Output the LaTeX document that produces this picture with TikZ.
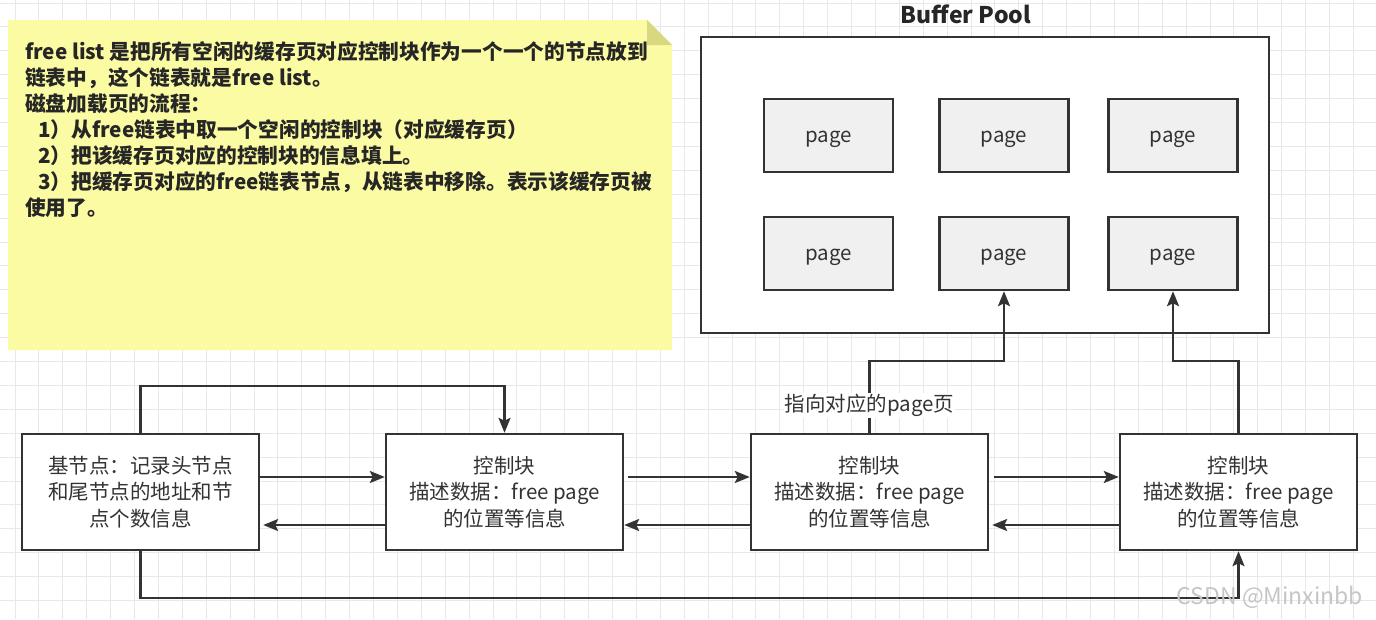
\documentclass[tikz,border=0pt]{standalone}
\usepackage{fontspec}
\setmainfont{Noto Sans CJK SC}
\usetikzlibrary{arrows.meta}
\definecolor{ink}{HTML}{333333}
\definecolor{gridc}{HTML}{E8E8E8}
\definecolor{notefill}{HTML}{FBFBA3}
\definecolor{foldfill}{HTML}{D8D880}
\definecolor{pagefill}{HTML}{F0F0F0}
\begin{document}
\begin{tikzpicture}[x=1pt,y=-1pt,
  gridline/.style={draw=gridc,line width=1pt},
  box/.style={draw=ink,line width=2.4pt,fill=white,minimum width=237pt,minimum height=116pt,align=center,inner sep=0pt,text=ink,font=\fontsize{20.5}{26.5}\selectfont},
  pagebox/.style={draw=ink,line width=2.4pt,fill=pagefill,minimum width=129pt,minimum height=73pt,inner sep=0pt,text=ink,text height=19pt,text depth=4.6pt,font=\fontsize{20.5}{24}\selectfont},
  pool/.style={draw=ink,line width=2.6pt,fill=white,minimum width=568pt,minimum height=296pt,inner sep=0pt},
  arr/.style={draw=ink,line width=2.5pt,-{Stealth[length=15pt,width=12pt,inset=3pt]}},
  noteline/.style={anchor=base west,inner sep=0pt,text=black!85,font=\fontsize{20.7}{26}\selectfont\bfseries},
  lbl/.style={fill=white,inner sep=1pt,text=ink,font=\fontsize{20.5}{24}\selectfont}
]
\useasboundingbox (0,0) rectangle (1376,619);
\fill[white] (0,0) rectangle (1376,619);
% grid
\foreach \i in {0,...,56} \draw[gridline] ({15+23.9*\i},0) -- ({15+23.9*\i},619);
\foreach \j in {0,...,25} \draw[gridline] (0,{3+23.9*\j}) -- (1376,{3+23.9*\j});
% note
\fill[notefill] (8,20) -- (647,20) -- (672,45) -- (672,350) -- (8,350) -- cycle;
\fill[foldfill] (647,20) -- (672,45) -- (647,45) -- cycle;
\node[noteline] (l1) at (25,59) {free list 是把所有空闲的缓存页对应控制块作为一个一个的节点放到};
\node[noteline] (l2) at (25,85) {链表中，这个链表就是free list。};
\node[noteline] (l3) at (25,111) {磁盘加载页的流程：};
\node[noteline] (l4) at (38,137) {1）从free链表中取一个空闲的控制块（对应缓存页）};
\node[noteline] (l5) at (38,163) {2）把该缓存页对应的控制块的信息填上。};
\node[noteline] (l6) at (38,189) {3）把缓存页对应的free链表节点，从链表中移除。表示该缓存页被};
\node[noteline] (l7) at (25,215) {使用了。};
% buffer pool
\node[text=black!85,font=\fontsize{23}{26}\selectfont\bfseries] (title) at (966,14) {Buffer Pool};
\node[pool] (pool) at (985,185) {};
\node[pagebox] (p11) at (828.5,135.5) {page};
\node[pagebox] (p12) at (1004,135.5) {page};
\node[pagebox] (p13) at (1173,135.5) {page};
\node[pagebox] (p21) at (828.5,253.5) {page};
\node[pagebox] (p22) at (1004,253.5) {page};
\node[pagebox] (p23) at (1173,253.5) {page};
% list nodes
\node[box] (base) at (140.5,492) {基节点：记录头节点\\和尾节点的地址和节\\点个数信息};
\node[box] (cb1) at (504.5,492) {控制块\\描述数据：free page\\的位置等信息};
\node[box] (cb2) at (869.5,492) {控制块\\描述数据：free page\\的位置等信息};
\node[box] (cb3) at (1238.5,492) {控制块\\描述数据：free page\\的位置等信息};
% links
\draw[arr] ([yshift=15pt]base.east) -- ([yshift=15pt]cb1.west);
\draw[arr,shorten >=3pt] ([yshift=-33pt]cb1.west) -- ([yshift=-33pt]base.east);
\draw[arr,shorten <=4pt] ([yshift=15pt]cb1.east) -- ([yshift=15pt]cb2.west);
\draw[arr] ([yshift=-33pt]cb2.west) -- ([yshift=-33pt]cb1.east);
\draw[arr,shorten <=5pt] ([yshift=15pt]cb2.east) -- ([yshift=15pt]cb3.west);
\draw[arr,shorten >=3pt] ([yshift=-33pt]cb3.west) -- ([yshift=-33pt]cb2.east);
\draw[arr] (base.north) -- ++(0,-47) -| (cb1.north);
\draw[arr] (base.south) -- ++(0,47) -| (cb3.south);
\draw[arr] (cb2.north) -- node[lbl,pos=0.38] (ptr) {指向对应的page页} ++(0,-72) -| (p22.south);
\draw[arr] (cb3.north) -- ++(0,-72) -| (p23.south);
% watermark
\node[text=gray!45,font=\fontsize{23}{26}\selectfont] (wm) at (1270,597) {CSDN @Minxinbb};
\end{tikzpicture}
\end{document}
